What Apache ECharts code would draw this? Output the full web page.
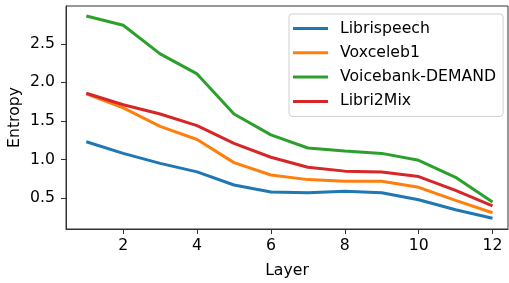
<!DOCTYPE html>
<html>
<head>
<meta charset="utf-8">
<script src="https://cdn.jsdelivr.net/npm/echarts@6/dist/echarts.min.js"></script>
<style>
  html, body { margin: 0; padding: 0; background: #fff; }
  #chart { width: 509px; height: 283px; }
</style>
</head>
<body>
<div id="chart"></div>
<script>
// layers on the x axis
const layers = [1, 2, 3, 4, 5, 6, 7, 8, 9, 10, 11, 12]
const librispeech = [1.23, 1.08, 0.95, 0.84, 0.67, 0.58, 0.57, 0.59, 0.57, 0.48, 0.35, 0.24]
const voxceleb1 = [1.85, 1.67, 1.43, 1.26, 0.96, 0.80, 0.74, 0.72, 0.72, 0.64, 0.47, 0.31]
const voicebank = [2.86, 2.74, 2.37, 2.11, 1.59, 1.32, 1.15, 1.11, 1.08, 0.99, 0.77, 0.45]
const libri2mix = [1.86, 1.71, 1.59, 1.44, 1.21, 1.03, 0.90, 0.85, 0.84, 0.78, 0.60, 0.40]
const xTicks = [2, 4, 6, 8, 10, 12]
const yTicks = [0.5, 1.0, 1.5, 2.0, 2.5]

const font = 'DejaVu Sans'
const fs = 15.7
const ink = '#333'

const names = ['Librispeech', 'Voxceleb1', 'Voicebank-DEMAND', 'Libri2Mix']
const values = [librispeech, voxceleb1, voicebank, libri2mix]
const colors = ['#1f77b4', '#ff7f0e', '#2ca02c', '#d62728']

let myChart = echarts.init(document.getElementById('chart'), null, { renderer: 'canvas' })

let option = {
  animation: false,
  textStyle: { fontFamily: font },
  grid: {
    left: 66, right: 1, top: 6, bottom: 54,
    outerBoundsMode: 'none',
    containLabel: false,
    show: true, borderColor: ink, borderWidth: 1
  },
  legend: {
    orient: 'vertical',
    left: 289, top: 14,
    icon: 'rect',
    itemWidth: 35, itemHeight: 3,
    itemGap: 6.3,
    padding: [5.5, 7, 6, 4],
    borderColor: '#d0d0d0', borderWidth: 1, borderRadius: 3,
    backgroundColor: 'rgba(255,255,255,0.8)',
    textStyle: { fontFamily: font, fontSize: fs, color: '#000', lineHeight: 18, padding: [0, 0, 0, 7] },
    data: names
  },
  xAxis: {
    type: 'value',
    min: 0.45, max: 12.42,
    name: 'Layer',
    nameLocation: 'middle',
    nameGap: 34,
    nameMoveOverlap: false,
    nameTextStyle: { fontFamily: font, fontSize: fs, color: '#000' },
    splitLine: { show: false },
    axisLine: { lineStyle: { color: ink, width: 1 } },
    axisTick: { length: 5, lineStyle: { color: ink }, customValues: xTicks },
    axisLabel: { fontFamily: font, fontSize: fs, color: '#000', margin: 9, customValues: xTicks }
  },
  yAxis: {
    type: 'value',
    min: 0.1, max: 2.99,
    name: 'Entropy',
    nameLocation: 'middle',
    nameRotate: 90,
    nameGap: 43,
    nameMoveOverlap: false,
    nameTextStyle: { fontFamily: font, fontSize: fs, color: '#000' },
    splitLine: { show: false },
    axisLine: { show: true, lineStyle: { color: ink, width: 1 } },
    axisTick: { show: true, length: 5, lineStyle: { color: ink }, customValues: yTicks },
    axisLabel: {
      fontFamily: font, fontSize: fs, color: '#000', margin: 11,
      customValues: yTicks,
      formatter: v => v.toFixed(1)
    }
  },
  series: names.map((name, i) => ({
    name: name,
    type: 'line',
    data: layers.map((l, j) => [l, values[i][j]]),
    showSymbol: false,
    symbol: 'none',
    lineStyle: { color: colors[i], width: 3 },
    itemStyle: { color: colors[i] },
    z: 2 + i
  }))
}
myChart.setOption(option)
</script>
</body>
</html>
